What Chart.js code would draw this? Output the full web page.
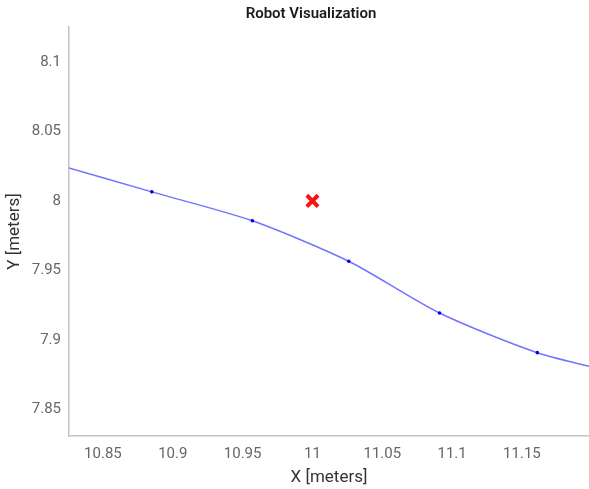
<!DOCTYPE html>
<html>
<head>
<meta charset="utf-8">
<script src="https://cdn.jsdelivr.net/npm/chart.js@4"></script>
<style>
  html, body { margin: 0; padding: 0; background: #fff; }
  #wrap { position: relative; width: 589px; height: 489px; }
</style>
</head>
<body>
<div id="wrap"><canvas id="c"></canvas></div>
<script>
// Path points (x, y in meters); first/last run past the visible window
const pathX = [10.815, 10.885, 10.957, 11.026, 11.091, 11.161, 11.230];
const pathY = [8.0268, 8.0065, 7.9857, 7.9566, 7.9194, 7.8909, 7.8735];
// Robot position marker
const robotX = [11.0];
const robotY = [8.0];
// Axis ticks
const xTicks = [10.85, 10.9, 10.95, 11, 11.05, 11.1, 11.15];
const yTicks = [7.85, 7.9, 7.95, 8, 8.05, 8.1];
const xRange = [10.8257, 11.198];
const yRange = [7.831, 8.125];

const titlePlugin = {
  id: 'customTitle',
  afterDraw(chart) {
    const ctx = chart.ctx;
    ctx.save();
    ctx.font = '600 15px Roboto';
    ctx.fillStyle = '#1a1a1a';
    ctx.textAlign = 'center';
    ctx.textBaseline = 'middle';
    ctx.fillText('Robot Visualization', 311, 14);
    ctx.restore();
  }
};

new Chart(document.getElementById('c'), {
  type: 'scatter',
  data: {
    datasets: [
      {
        label: 'Path',
        data: pathX.map((x, i) => ({ x: x, y: pathY[i] })),
        showLine: true,
        borderColor: 'rgb(115,115,255)',
        borderWidth: 1.5,
        tension: 0.25,
        pointRadius: 1.8,
        pointBackgroundColor: '#0000f0',
        pointBorderColor: '#0000f0',
        pointBorderWidth: 0
      },
      {
        label: 'Robot',
        data: robotX.map((x, i) => ({ x: x, y: robotY[i] })),
        pointStyle: 'crossRot',
        pointRadius: 8,
        borderColor: '#ff1010',
        pointBorderColor: '#ff1010',
        pointBorderWidth: 4,
        showLine: false
      }
    ]
  },
  options: {
    responsive: true,
    maintainAspectRatio: false,
    animation: false,
    layout: { autoPadding: false, padding: { top: 27, right: 0, left: 0, bottom: 0 } },
    plugins: {
      legend: { display: false },
      title: { display: false },
      tooltip: { enabled: false }
    },
    scales: {
      x: {
        type: 'linear',
        min: xRange[0],
        max: xRange[1],
        grid: { display: false, drawTicks: false },
        border: { display: true, color: '#c4c4c4', width: 1.5 },
        afterBuildTicks: s => { s.ticks = xTicks.map(v => ({ value: v })); },
        afterFit: s => { s.height = 53; s.paddingLeft = 0; s.paddingRight = 0; },
        ticks: {
          padding: 9,
          color: '#666',
          font: { family: 'Roboto', size: 15 },
          callback: v => String(v)
        },
        title: {
          display: true,
          text: 'X [meters]',
          color: '#333',
          font: { family: 'Roboto', size: 17 },
          padding: { top: 0, bottom: 1 }
        }
      },
      y: {
        type: 'linear',
        min: yRange[0],
        max: yRange[1],
        grid: { display: false, drawTicks: false },
        border: { display: true, color: '#c4c4c4', width: 1.5 },
        afterBuildTicks: s => { s.ticks = yTicks.map(v => ({ value: v })); },
        afterFit: s => { s.width = 69; s.paddingTop = 0; s.paddingBottom = 0; },
        ticks: {
          padding: 8,
          color: '#666',
          font: { family: 'Roboto', size: 15 },
          callback: v => String(v)
        },
        title: {
          display: true,
          text: 'Y [meters]',
          color: '#333',
          font: { family: 'Roboto', size: 17 },
          padding: { top: 5, bottom: 0 }
        }
      }
    }
  },
  plugins: [titlePlugin]
});
</script>
</body>
</html>
